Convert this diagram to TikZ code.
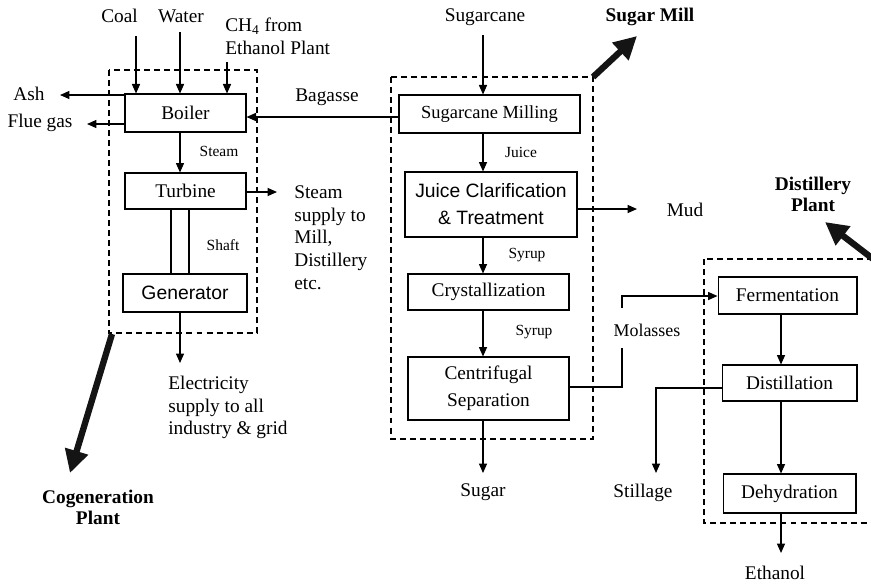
\documentclass[tikz,border=0pt]{standalone}
\usepackage{fontspec}
\setmainfont{Liberation Serif}
\newfontfamily\arialf{Liberation Sans}
\usetikzlibrary{arrows.meta}
\begin{document}
\begin{tikzpicture}[x=0.02cm,y=-0.02cm,
  every node/.style={font=\fontsize{11}{12.9}\selectfont, inner sep=0pt},
  procbox/.style={draw, line width=0.6pt},
  flow/.style={line width=0.7pt, -{Triangle[length=5.4pt,width=4.6pt]}},
  plain/.style={line width=0.7pt},
  region/.style={draw, line width=0.7pt, dash pattern=on 3.4pt off 2.3pt},
  bigarrow/.style={line width=3.6pt, -{Triangle[length=13pt,width=13pt]}, black!92},
  small/.style={font=\fontsize{8.8}{10}\selectfont},
  boldlbl/.style={font=\fontsize{11}{12}\selectfont\bfseries, align=center},
  sans/.style={font=\fontsize{11}{15.3}\selectfont\arialf}
]
\useasboundingbox (0,0) rectangle (871,583);
\clip (0,0) rectangle (871,583);

% dashed regions
\draw[region] (109,70) rectangle (257,333);
\draw[region] (391,77) rectangle (593,439);
\draw[region] (704,259) rectangle (895,523);

% process boxes
\node[procbox, minimum width=2.42cm, minimum height=0.76cm] (boiler) at (185.5,113) {Boiler};
\node[procbox, minimum width=2.42cm, minimum height=0.72cm] (turbine) at (185.5,191) {Turbine};
\node[procbox, sans, minimum width=2.48cm, minimum height=0.76cm] (gen) at (185,293) {Generator};
\node[procbox, font=\fontsize{10.5}{12}\selectfont, minimum width=3.62cm, minimum height=0.76cm] (mill) at (489.5,114) {Sugarcane Milling};
\node[procbox, sans, align=center, minimum width=3.44cm, minimum height=1.30cm] (clar) at (491,204.5) {Juice Clarification\\\& Treatment};
\node[procbox, minimum width=3.22cm, minimum height=0.72cm] (cryst) at (488.5,292) {Crystallization};
\node[procbox, align=center, font=\fontsize{11}{15.3}\selectfont, minimum width=3.22cm, minimum height=1.26cm] (centri) at (488.5,388.5) {Centrifugal\\Separation};
\node[procbox, minimum width=2.78cm, minimum height=0.74cm] (ferm) at (787.5,295.5) {Fermentation};
\node[procbox, minimum width=2.70cm, minimum height=0.72cm] (dist) at (789.5,383) {Distillation};
\node[procbox, minimum width=2.66cm, minimum height=0.78cm] (dehyd) at (789.5,493.5) {Dehydration};

% labels
\node (coal) at (119.5,16) {Coal};
\node (water) at (181,16) {Water};
\node[anchor=west, align=left] (ch4) at (225,36) {CH\textsubscript{4} from\\Ethanol Plant};
\node (ash) at (29,94) {Ash};
\node (flue) at (40,123) {Flue gas};
\node[anchor=west] (bag) at (295,97) {Bagasse};
\node[small] (steamlbl) at (219,151) {Steam};
\node[anchor=west, align=left] (steamsup) at (294,237.5) {Steam\\supply to\\Mill,\\Distillery\\etc.};
\node[small] (shaft) at (223,245) {Shaft};
\node[anchor=west, align=left] (elec) at (168,407.5) {Electricity\\supply to all\\industry \& grid};
\node[boldlbl] (cogen) at (98,507.5) {Cogeneration\\Plant};
\node (cane) at (485,17) {Sugarcane};
\node[boldlbl] (milllbl) at (650,17) {Sugar Mill};
\node[small] (juice) at (521,152) {Juice};
\node (mud) at (685,210) {Mud};
\node[small] (syrupa) at (527,255) {Syrup};
\node[small] (syrupb) at (534,332) {Syrup};
\node (sugar) at (483,492) {Sugar};
\node[font=\fontsize{10.2}{12}\selectfont] (molasses) at (647,330) {Molasses};
\node[boldlbl] (distlbl) at (813,194) {Distillery\\Plant};
\node (still) at (643,493) {Stillage};
\node (ethanol) at (775,573) {Ethanol};

% helper coordinates
\coordinate (colC) at (180,0);
\coordinate (colM) at (483,0);
\coordinate (colD) at (781,0);
\coordinate (coalin) at (136,36);
\coordinate (waterin) at (180,32);
\coordinate (ch4in) at (227,62);
\coordinate (ashend) at (60,95);
\coordinate (flueend) at (87,124);
\coordinate (bagy) at (0,117);
\coordinate (supend) at (277,192);
\coordinate (elecend) at (180,363);
\coordinate (canein) at (483,35);
\coordinate (mudend) at (637,209);
\coordinate (sugarend) at (483,473);
\coordinate (molA) at (622,348);
\coordinate (molB) at (622,308);
\coordinate (stillend) at (656,473);
\coordinate (ethend) at (781,553);

% cogeneration connectors
\draw[flow] (coalin) -- (boiler.north -| coalin);
\draw[flow] (waterin) -- (boiler.north -| waterin);
\draw[flow] (ch4in) -- (boiler.north -| ch4in);
\draw[flow] (boiler.west |- ashend) -- (ashend);
\draw[flow] (boiler.west |- flueend) -- (flueend);
\draw[flow] (mill.west |- bagy) -- (boiler.east |- bagy);
\draw[flow] (boiler.south -| colC) -- (turbine.north -| colC);
\draw[flow] (turbine.east |- supend) -- (supend);
\draw[plain] (turbine.south -| 171,0) -- (gen.north -| 171,0);
\draw[plain] (turbine.south -| 189,0) -- (gen.north -| 189,0);
\draw[flow] (gen.south -| colC) -- (elecend);

% sugar mill connectors
\draw[flow] (canein) -- (mill.north -| colM);
\draw[flow] (mill.south -| colM) -- (clar.north -| colM);
\draw[flow] (clar.east |- mudend) -- (mudend);
\draw[flow] (clar.south -| colM) -- (cryst.north -| colM);
\draw[flow] (cryst.south -| colM) -- (centri.north -| colM);
\draw[flow] (centri.south -| colM) -- (sugarend);
\draw[plain] (centri.east |- 0,387) -| (molA);
\draw[flow] (molB) |- (ferm.west |- 0,296);

% distillery connectors
\draw[flow] (ferm.south -| colD) -- (dist.north -| colD);
\draw[flow] (dist.south -| colD) -- (dehyd.north -| colD);
\draw[flow] (dehyd.south -| colD) -- (ethend);
\draw[flow] (dist.west |- 0,388) -| (stillend);

% big plant arrows
\coordinate (cgA) at (112,334);
\coordinate (cgB) at (70,473);
\coordinate (smA) at (593,77);
\coordinate (smB) at (637,36);
\coordinate (dpA) at (890,272);
\coordinate (dpB) at (825,222);
\draw[bigarrow] (cgA) -- (cgB);
\draw[bigarrow] (smA) -- (smB);
\draw[bigarrow] (dpA) -- (dpB);
\end{tikzpicture}
\end{document}
